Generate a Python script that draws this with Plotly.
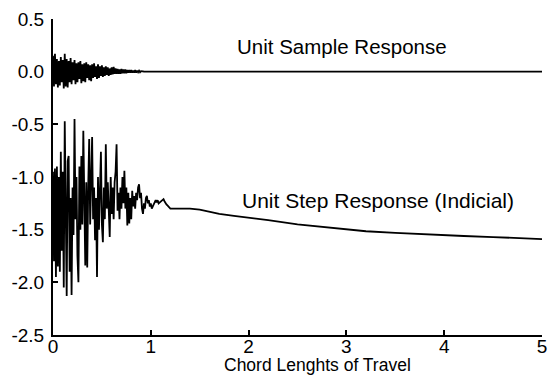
import plotly.graph_objects as go

# ---------------- data ----------------
# Dense section sampled every 0.01 chord lengths (0.00 .. 1.20)
dense_x = [round(i * 0.01, 2) for i in range(121)]

step_dense = [
    -0.95, -1.80, -0.92, -1.95, -0.90, -1.85, -1.00, -1.90, -0.76, -1.70,
    -0.95, -2.05, -0.47, -1.60, -2.13, -0.85, -0.80, -1.90, -1.20, -2.12,
    -1.10, -1.55, -0.45, -1.40, -1.00, -1.75, -2.00, -0.90, -1.50, -0.80,
    -1.45, -0.56, -1.30, -1.84, -1.05, -1.86, -1.10, -0.64, -1.45, -0.90,
    -0.62, -1.40, -1.10, -1.60, -1.20, -1.95, -1.00, -1.50, -1.05, -0.76,
    -1.45, -1.62, -1.10, -1.40, -0.69, -1.30, -1.05, -1.45, -1.57, -1.00,
    -1.35, -1.10, -1.40, -1.05, -0.95, -0.69, -1.32, -1.15, -1.40, -1.10,
    -1.30, -1.00, -1.25, -0.94, -1.30, -1.10, -1.46, -1.15, -1.44, -1.20,
    -1.40, -1.13, -1.28, -1.18, -1.30, -1.15, -1.22, -1.10, -1.07, -1.20,
    -1.15, -1.30, -1.35, -1.25, -1.30, -1.20, -1.18, -1.25, -1.22, -1.28,
    -1.25, -1.30, -1.28, -1.25, -1.23, -1.22, -1.24, -1.22, -1.25, -1.24,
    -1.24, -1.22, -1.22, -1.21, -1.23, -1.25, -1.26, -1.27, -1.28, -1.29,
    -1.30,
]
step_tail_x = [1.30, 1.40, 1.50, 1.60, 1.70, 1.85, 2.00, 2.20, 2.50, 2.70,
               3.00, 3.20, 3.50, 3.70, 4.00, 4.20, 4.50, 4.75, 5.00]
step_tail_y = [-1.30, -1.30, -1.31, -1.33, -1.35, -1.37, -1.385, -1.41, -1.45, -1.47,
               -1.50, -1.515, -1.53, -1.54, -1.55, -1.56, -1.57, -1.58, -1.59]

sample_dense = [
    0.15, -0.14, 0.17, -0.12, 0.12, -0.15, 0.10, -0.13, 0.14, -0.10,
    0.11, -0.16, 0.17, -0.14, 0.12, -0.15, 0.10, -0.10, 0.13, -0.12,
    0.09, -0.08, 0.11, -0.12, 0.08, -0.10, 0.09, -0.07, 0.10, -0.11,
    0.07, -0.09, 0.08, -0.10, 0.09, -0.06, 0.07, -0.08, 0.06, -0.09,
    0.07, -0.06, 0.08, -0.05, 0.05, -0.07, 0.07, -0.06, 0.05, -0.04,
    0.06, -0.05, 0.04, -0.04, 0.05, -0.03, 0.04, -0.04, 0.03, -0.03,
    0.04, -0.025, 0.045, -0.02, 0.03, -0.02, 0.025, -0.02, 0.02, -0.02,
    0.025, -0.015, 0.02, -0.015, 0.02, -0.015, 0.015, -0.01, 0.015, -0.01,
    0.015, -0.01, 0.01, -0.01, 0.015, -0.01, 0.01, -0.005, 0.01, -0.005,
    0.005, 0.0, 0.003, 0.0, 0.002, 0.0, 0.0, 0.0, 0.0, 0.0,
    0.0,
]
sample_tail_x = [5.00]
sample_tail_y = [0.0]

x_ticks = [0, 1, 2, 3, 4, 5]
x_labels = ["0", "1", "2", "3", "4", "5"]
y_ticks = [0.5, 0.0, -0.5, -1.0, -1.5, -2.0, -2.5]
y_labels = ["0.5", "0.0", "-0.5", "-1.0", "-1.5", "-2.0", "-2.5"]

x_title = "Chord Lenghts of Travel"
label_sample = "Unit Sample Response"
label_step = "Unit Step Response (Indicial)"

# ---------------- figure ----------------
FONT = "Liberation Sans, Arial, Helvetica, sans-serif"

fig = go.Figure()
fig.add_trace(go.Scatter(
    x=dense_x[:len(sample_dense)] + sample_tail_x,
    y=sample_dense + sample_tail_y,
    mode="lines", line=dict(color="black", width=1.8), hoverinfo="skip",
    showlegend=False,
))
fig.add_trace(go.Scatter(
    x=dense_x + step_tail_x,
    y=step_dense + step_tail_y,
    mode="lines", line=dict(color="black", width=1.8), hoverinfo="skip",
    showlegend=False,
))

fig.add_annotation(x=2.96, y=0.24, xref="x", yref="y", text=label_sample,
                   showarrow=False, font=dict(family=FONT, size=20.5, color="black"))
fig.add_annotation(x=3.32, y=-1.22, xref="x", yref="y", text=label_step,
                   showarrow=False, font=dict(family=FONT, size=21, color="black"))
# axis title (offset to the right of centre as in the original)
fig.add_annotation(x=2.70, y=-0.094, xref="x", yref="paper", yanchor="middle",
                   text=x_title, showarrow=False,
                   font=dict(family=FONT, size=17.5, color="black"))

axis_common = dict(
    showgrid=False, zeroline=False, showline=True, linecolor="black", linewidth=2,
    ticks="inside", ticklen=5, tickwidth=2, tickcolor="black", automargin=False,
    tickfont=dict(family=FONT, size=19, color="black"),
)

fig.update_layout(
    width=551, height=384,
    margin=dict(l=53, r=9, t=19, b=49),
    paper_bgcolor="white", plot_bgcolor="white",
    xaxis=dict(range=[0, 5], tickvals=x_ticks, ticktext=x_labels,
               ticklabelstandoff=-7, **axis_common),
    yaxis=dict(range=[-2.5, 0.5], tickvals=y_ticks, ticktext=y_labels,
               ticklabelstandoff=3, **axis_common),
)

fig.write_html("out.html")
